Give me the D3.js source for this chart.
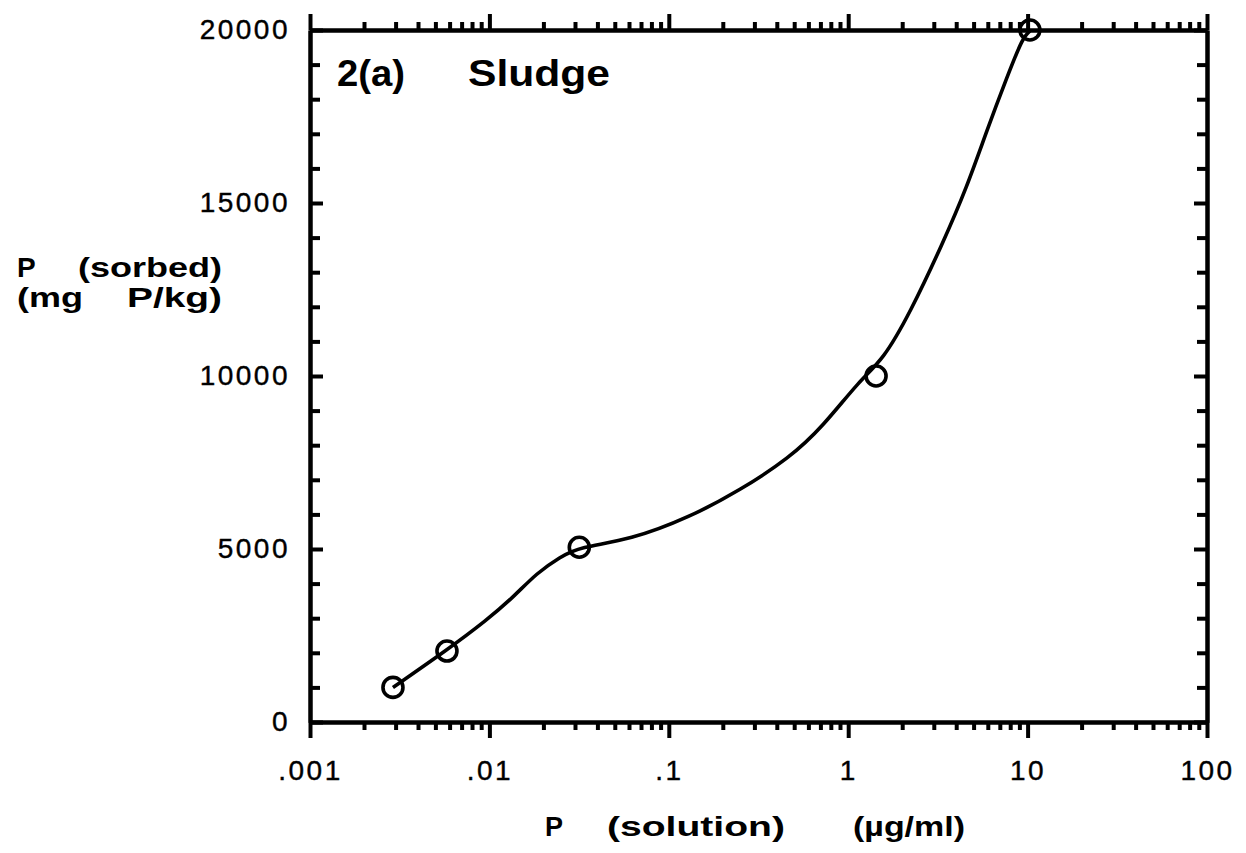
<!DOCTYPE html>
<html>
<head>
<meta charset="utf-8">
<script src="https://cdn.jsdelivr.net/npm/d3@7"></script>
<style>
body { margin: 0; background: #fff; }
svg text { font-family: "Liberation Sans", Arial, Helvetica, sans-serif; fill: #000; }
.tick text { font-size: 28px; letter-spacing: 2.5px; stroke: #000; stroke-width: 0.4px; }
.domain, .tick line { stroke: #000; stroke-width: 4; }
.lbl { font-weight: bold; }
</style>
</head>
<body>
<div id="svg"></div>
<script>
// measured points (P solution vs P sorbed)
var pointX = [0.0029, 0.0058, 0.0317, 1.43, 10.3];
var pointY = [1000, 2050, 5050, 10000, 20000];

// hand drawn fit curve
var curveX = [0.0029, 0.0058, 0.0097, 0.0136, 0.0184, 0.0248, 0.0317, 0.061, 0.131, 0.25, 0.47, 0.72, 1.16, 1.56, 2.21, 3.37, 4.59, 5.94, 7.68, 9.42, 10.3];
var curveY = [1000, 2080, 2950, 3610, 4310, 4770, 5060, 5260, 5920, 6700, 7630, 8530, 9880, 10460, 11820, 13840, 15460, 17110, 18640, 19800, 19970];

var xTicks = [0.001, 0.01, 0.1, 1, 10, 100];
var xTickLabels = ['.001', '.01', '.1', '1', '10', '100'];
var yTicks = [0, 5000, 10000, 15000, 20000];
var yMinorStep = 1000;

var width = 1246, height = 853;
var svg = d3.select('#svg').append('svg')
	.attr('width', width).attr('height', height);

var mLeft = 310, mRight = 1207, mTop = 30, mBottom = 722;

var x = d3.scaleLog().domain([0.001, 100]).range([mLeft, mRight]);
var y = d3.scaleLinear().domain([0, 20000]).range([mBottom, mTop]);

// minor ticks 2..9 per decade
var xMinor = [];
for (var d = 0; d < xTicks.length - 1; d++) {
	for (var m = 2; m <= 9; m++) xMinor.push(xTicks[d] * m);
}
var yMinor = d3.range(0, 20001, yMinorStep).filter(function(v) { return v % 5000 != 0; });

// bottom axis
svg.append('g').attr('transform', 'translate(0,' + mBottom + ')')
	.call(d3.axisBottom(x).tickValues(xMinor).tickSize(8).tickSizeOuter(0).tickFormat(''));
svg.append('g').attr('transform', 'translate(0,' + mBottom + ')')
	.call(d3.axisBottom(x).tickValues(xTicks).tickSize(16).tickSizeOuter(0).tickPadding(22)
		.tickFormat(function(d, i) { return xTickLabels[i]; }));

// top axis
svg.append('g').attr('transform', 'translate(0,' + mTop + ')')
	.call(d3.axisTop(x).tickValues(xMinor).tickSize(8).tickSizeOuter(0).tickFormat(''));
svg.append('g').attr('transform', 'translate(0,' + mTop + ')')
	.call(d3.axisTop(x).tickValues(xTicks).tickSize(16).tickSizeOuter(0).tickFormat(''));

// left axis, ticks inward
svg.append('g').attr('transform', 'translate(' + mLeft + ',0)')
	.call(d3.axisLeft(y).tickValues(yMinor).tickSize(-10).tickSizeOuter(0).tickFormat(''));
svg.append('g').attr('transform', 'translate(' + mLeft + ',0)')
	.call(d3.axisLeft(y).tickValues(yTicks).tickSize(-13).tickSizeOuter(0).tickPadding(20)
		.tickFormat(d3.format('d')));

// right axis
svg.append('g').attr('transform', 'translate(' + mRight + ',0)')
	.call(d3.axisRight(y).tickValues(yMinor).tickSize(-10).tickSizeOuter(0).tickFormat(''));
svg.append('g').attr('transform', 'translate(' + mRight + ',0)')
	.call(d3.axisRight(y).tickValues(yTicks).tickSize(-13).tickSizeOuter(0).tickFormat(''));

svg.selectAll('.tick text').attr('fill', '#000');

// curve (smoothed through the read points)
var line = d3.line()
	.x(function(d) { return x(d[0]); })
	.y(function(d) { return y(d[1]); })
	.curve(d3.curveBasis);

svg.append('path')
	.datum(d3.zip(curveX, curveY))
	.attr('d', line)
	.attr('fill', 'none')
	.attr('stroke', '#000')
	.attr('stroke-width', 3.6);

// data points
svg.selectAll()
	.data(d3.zip(pointX, pointY))
	.enter()
	.append('circle')
	.attr('cx', function(d) { return x(d[0]); })
	.attr('cy', function(d) { return y(d[1]); })
	.attr('r', 10)
	.attr('fill', 'none')
	.attr('stroke', '#000')
	.attr('stroke-width', 3.6);

// labels
function label(txt, px, py, size, len) {
	var t = svg.append('text')
		.attr('class', 'lbl')
		.attr('x', px).attr('y', py)
		.style('font-size', size + 'px')
		.text(txt);
	if (len) t.attr('textLength', len).attr('lengthAdjust', 'spacingAndGlyphs');
	return t;
}

// panel title
label('2(a)', 337, 86, 36, 68);
label('Sludge', 468, 86, 36, 142);

// y title
label('P', 17, 277, 28);
label('(sorbed)', 78, 277, 28, 144);
label('(mg', 17, 307, 28, 66);
label('P/kg)', 127, 307, 28, 95);

// x title
label('P', 545, 836, 27);
label('(solution)', 607, 836, 27, 178);
label('(\u00b5g/ml)', 853, 836, 27, 112);
</script>
</body>
</html>
